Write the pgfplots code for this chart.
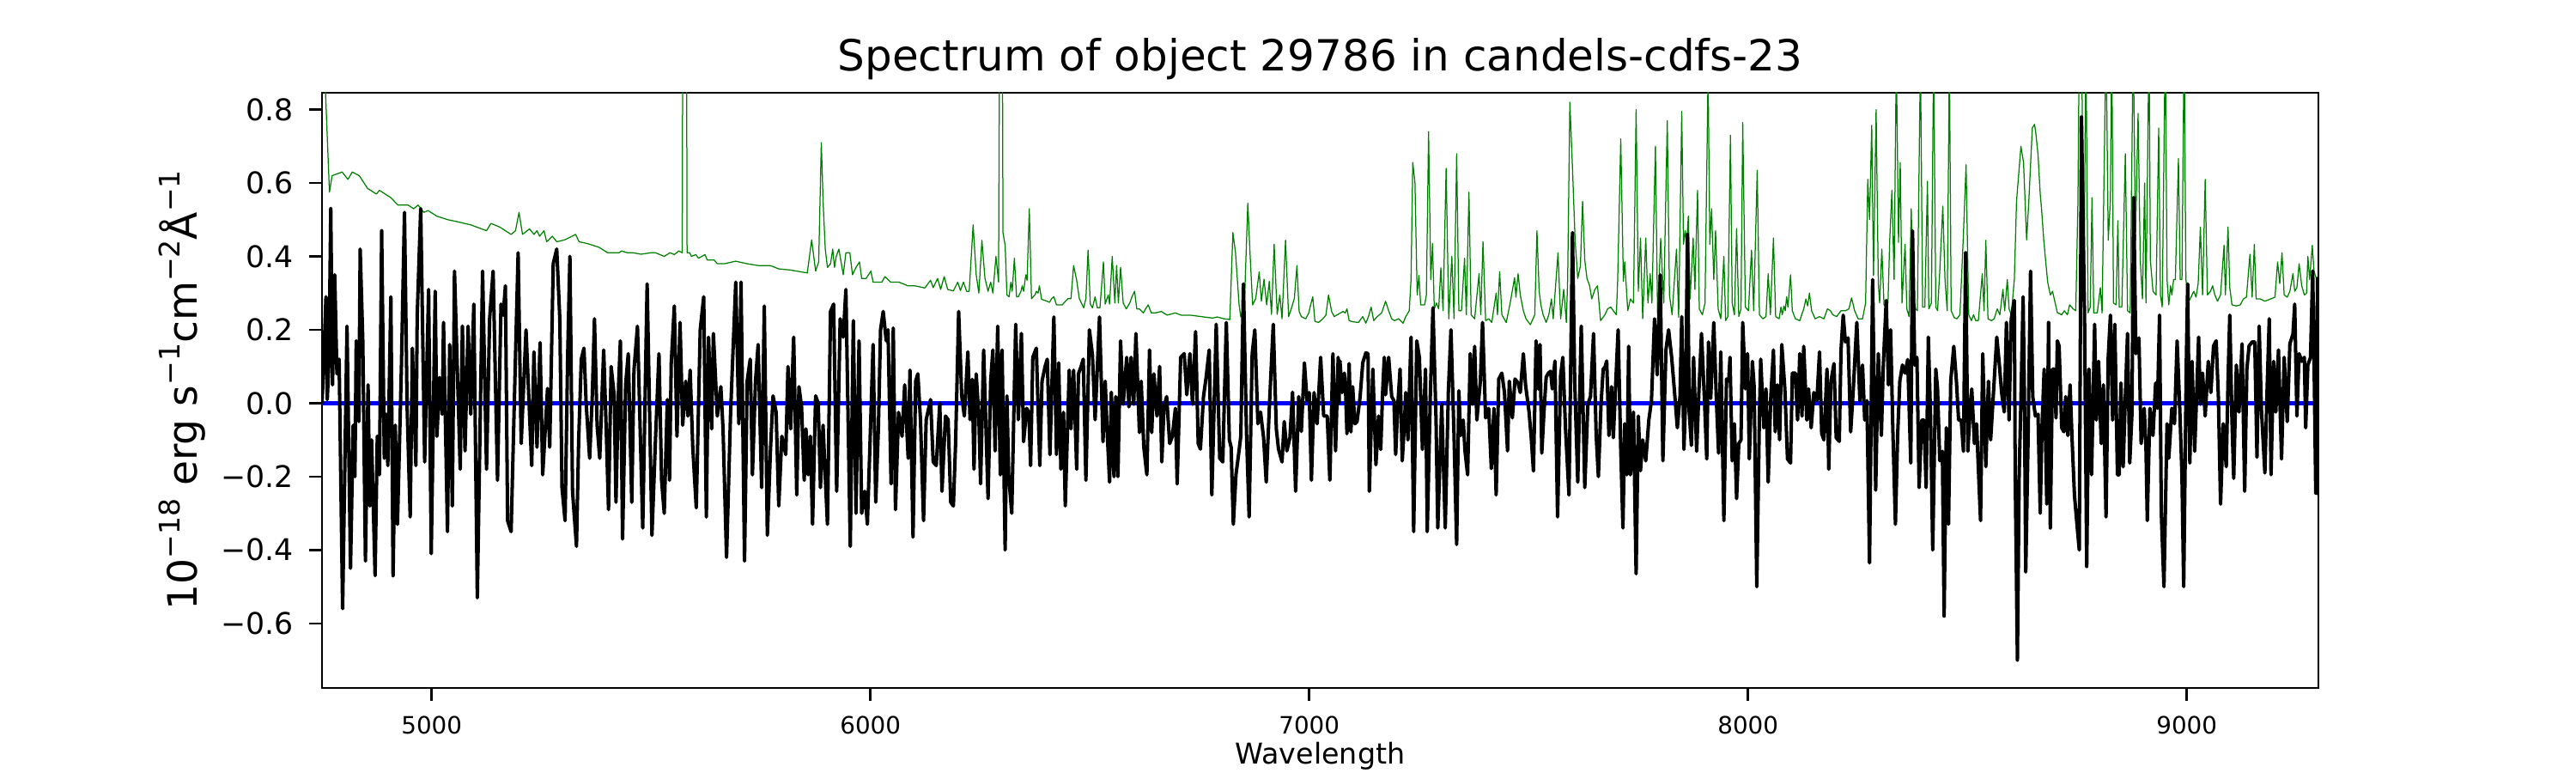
\documentclass[border=0pt]{standalone}
\usepackage{pgfplots}
\pgfplotsset{compat=1.18}
\usepackage{pgfplotstable}
\usepackage{fontspec}
\setmainfont{DejaVu Sans}
\definecolor{mplgreen}{rgb}{0,0.5,0}
\newcommand{\sups}[1]{\raisebox{0.42em}{\fontsize{11.9}{14}\selectfont #1}}

\pgfplotstableread{
x y
4750 0.00
4753 0.08
4759 0.29
4762 0.01
4766 0.12
4770 0.53
4774 0.05
4779 0.35
4784 0.08
4789 0.12
4797 -0.56
4807 0.21
4815 -0.45
4821 -0.06
4825 -0.20
4828 0.17
4834 -0.05
4837 0.42
4843 0.17
4849 -0.43
4855 0.05
4859 -0.28
4863 -0.10
4871 -0.47
4876 -0.09
4881 -0.195
4886 0.47
4892 -0.15
4896 -0.03
4900 -0.17
4907 0.29
4912 -0.47
4917 -0.06
4922 -0.33
4931 0.10
4938 0.52
4944 -0.01
4951 -0.31
4956 0.15
4964 -0.17
4967 0.24
4975 0.53
4984 -0.16
4993 0.31
4999 -0.41
5008 0.305
5012 -0.09
5018 0.07
5024 -0.03
5027 0.22
5036 -0.35
5041 0.16
5047 -0.28
5052 0.36
5058 0.11
5065 -0.18
5070 0.21
5076 -0.13
5083 0.21
5089 -0.03
5096 0.27
5104 -0.53
5116 0.36
5125 -0.18
5132 0.23
5140 0.36
5150 -0.21
5158 0.27
5163 0.24
5168 0.32
5173 -0.32
5181 -0.35
5187 -0.06
5197 0.41
5204 -0.11
5215 0.20
5223 -0.03
5228 -0.17
5233 0.14
5240 -0.12
5247 0.165
5253 -0.195
5264 0.04
5269 -0.12
5277 0.38
5285 0.42
5292 0.23
5297 -0.23
5304 -0.32
5310 0.135
5315 0.40
5321 -0.24
5330 -0.39
5335 -0.10
5341 0.12
5347 0.15
5352 0.00
5360 -0.15
5366 0.02
5371 0.23
5377 -0.06
5383 -0.15
5392 0.145
5398 -0.08
5403 -0.29
5409 0.10
5416 0.02
5420 -0.27
5426 0.05
5430 0.17
5435 -0.37
5442 0.05
5448 0.135
5456 -0.27
5461 0.09
5469 0.21
5481 -0.34
5491 0.325
5502 -0.36
5510 -0.10
5518 0.135
5524 -0.21
5530 -0.30
5537 0.01
5542 -0.21
5546 0.11
5553 0.265
5559 -0.09
5566 0.22
5572 -0.06
5579 0.06
5584 -0.035
5589 0.09
5595 -0.12
5603 -0.285
5612 0.20
5620 0.29
5626 -0.31
5631 0.18
5638 -0.07
5642 0.19
5651 -0.035
5659 0.045
5664 -0.07
5672 -0.42
5681 -0.035
5685 0.09
5693 0.33
5700 -0.056
5705 0.33
5713 -0.43
5719 0.06
5726 0.12
5731 -0.195
5738 0.06
5744 0.16
5752 -0.23
5758 0.265
5765 -0.36
5772 -0.13
5778 0.02
5785 -0.025
5791 -0.28
5798 -0.09
5807 -0.14
5812 0.10
5818 -0.07
5825 0.18
5832 -0.25
5837 0.045
5843 -0.01
5849 -0.21
5853 -0.07
5858 -0.195
5863 -0.09
5868 -0.33
5875 0.02
5881 0.00
5886 -0.23
5892 -0.06
5897 -0.20
5902 -0.33
5909 0.25
5916 0.27
5923 -0.24
5931 0.23
5938 0.18
5944 0.31
5954 -0.39
5961 0.225
5967 -0.30
5974 0.17
5980 -0.30
5987 -0.24
5993 -0.33
6000 -0.07
6006 0.16
6012 -0.27
6018 -0.07
6023 0.20
6029 0.25
6036 0.17
6040 0.20
6047 -0.22
6052 0.205
6057 -0.29
6064 -0.025
6072 -0.09
6078 0.05
6086 -0.15
6090 0.09
6097 -0.365
6103 0.06
6108 0.08
6114 -0.045
6121 -0.32
6127 -0.045
6137 0.01
6143 -0.16
6150 -0.17
6158 0.00
6163 -0.24
6171 -0.035
6177 -0.045
6183 -0.27
6189 -0.28
6194 -0.11
6201 0.25
6208 0.02
6214 -0.035
6222 0.14
6227 -0.045
6232 0.065
6236 -0.18
6241 0.08
6247 -0.035
6251 -0.22
6258 0.145
6268 -0.26
6274 0.06
6279 0.145
6284 -0.13
6290 0.21
6296 -0.195
6300 0.145
6307 -0.40
6311 0.02
6315 -0.195
6322 -0.30
6331 0.215
6337 -0.045
6344 0.19
6349 -0.105
6356 -0.014
6361 -0.025
6365 -0.17
6370 0.125
6378 0.15
6386 -0.17
6391 0.06
6398 0.10
6403 0.12
6409 -0.14
6418 0.235
6424 -0.14
6429 0.11
6434 -0.18
6440 -0.025
6444 -0.28
6453 0.09
6457 -0.07
6463 0.09
6470 -0.18
6474 0.08
6480 0.10
6485 0.12
6491 -0.21
6499 0.20
6506 0.13
6512 -0.045
6522 0.235
6530 -0.105
6535 0.06
6540 -0.09
6545 -0.215
6549 0.03
6555 -0.20
6559 0.018
6564 -0.20
6570 0.17
6576 -0.003
6584 0.125
6589 -0.01
6594 0.125
6600 -0.003
6605 0.19
6613 -0.08
6617 0.06
6623 -0.12
6630 -0.195
6636 0.145
6641 -0.08
6646 0.08
6653 -0.035
6659 0.10
6664 -0.16
6669 -0.01
6675 0.018
6682 -0.11
6688 -0.09
6695 -0.014
6699 -0.22
6707 0.125
6715 0.135
6721 0.023
6728 0.135
6734 -0.003
6741 0.195
6747 -0.11
6752 -0.125
6759 0.018
6765 0.07
6772 0.145
6778 -0.25
6788 0.215
6796 -0.15
6803 -0.16
6811 0.22
6818 -0.10
6822 -0.12
6827 -0.33
6833 -0.195
6840 -0.13
6844 -0.09
6850 0.325
6857 -0.08
6863 -0.31
6870 0.135
6876 0.20
6883 -0.056
6889 -0.024
6896 -0.094
6902 -0.215
6909 -0.014
6918 0.215
6925 -0.07
6930 -0.125
6938 -0.16
6943 -0.05
6949 -0.13
6956 -0.094
6962 0.03
6969 -0.24
6976 0.018
6982 -0.077
6989 0.11
6995 0.007
7000 0.029
7005 -0.21
7011 0.029
7018 -0.056
7026 0.125
7033 -0.035
7041 -0.035
7047 -0.21
7054 0.135
7060 -0.13
7066 0.125
7068 0.002
7070 0.115
7075 0.029
7080 0.082
7083 0.029
7086 -0.083
7091 0.108
7095 -0.078
7099 0.045
7104 -0.056
7109 -0.05
7116 0.018
7122 0.11
7129 0.137
7134 0.135
7137 -0.24
7145 0.093
7152 -0.168
7158 -0.035
7163 -0.126
7167 0.023
7171 0.125
7174 0.023
7181 0.125
7188 0.018
7193 0.007
7197 -0.14
7202 -0.003
7207 0.093
7212 -0.157
7217 -0.056
7220 0.029
7225 -0.10
7232 0.18
7238 -0.35
7245 0.17
7251 0.125
7258 -0.126
7265 0.093
7269 -0.35
7276 0.023
7282 0.26
7289 -0.046
7293 -0.34
7302 -0.003
7310 -0.34
7317 0.029
7323 0.20
7330 -0.088
7336 -0.385
7341 0.034
7345 -0.088
7351 -0.046
7355 -0.13
7361 -0.195
7367 0.135
7372 -0.003
7377 0.155
7382 -0.046
7390 0.06
7395 0.22
7402 -0.04
7409 -0.014
7415 -0.178
7421 -0.014
7426 -0.25
7432 0.066
7439 0.082
7445 0.029
7452 -0.13
7456 0.06
7463 -0.04
7469 0.066
7476 0.055
7481 0.029
7488 0.135
7493 0.05
7501 -0.024
7506 -0.094
7511 -0.185
7517 0.17
7522 0.039
7526 0.16
7530 -0.136
7535 -0.024
7540 0.071
7545 0.082
7550 0.087
7554 0.039
7560 0.115
7566 -0.31
7573 0.077
7578 0.125
7584 -0.067
7592 -0.25
7600 0.465
7605 0.06
7612 -0.215
7620 0.21
7628 -0.23
7635 -0.003
7641 0.018
7648 0.19
7654 -0.088
7659 -0.20
7665 -0.003
7670 0.093
7674 0.098
7678 0.115
7683 -0.088
7689 0.045
7693 -0.094
7698 0.039
7704 0.20
7710 -0.126
7715 -0.34
7719 -0.056
7724 -0.195
7728 0.155
7732 -0.195
7739 -0.024
7745 -0.465
7750 -0.035
7755 -0.184
7760 -0.10
7767 -0.157
7774 -0.046
7780 0.007
7787 0.23
7793 0.077
7800 0.35
7806 -0.157
7813 0.145
7819 0.20
7826 0.125
7832 0.039
7839 -0.067
7845 0.018
7849 0.236
7854 -0.126
7858 0.018
7862 0.46
7866 -0.024
7871 -0.115
7876 0.125
7883 -0.131
7888 0.029
7894 0.19
7901 0.002
7906 -0.152
7910 0.167
7915 0.013
7922 0.22
7928 0.007
7933 -0.136
7938 0.14
7945 -0.32
7951 0.066
7956 0.06
7959 0.125
7964 -0.157
7969 -0.056
7974 -0.26
7979 -0.11
7984 -0.10
7988 0.22
7994 0.039
7999 0.135
8003 -0.152
8010 0.114
8014 0.045
8020 -0.50
8026 -0.035
8029 0.12
8036 -0.067
8041 0.039
8046 -0.215
8052 0.018
8058 0.145
8062 -0.078
8067 0.05
8072 -0.10
8077 0.16
8084 0.039
8090 -0.152
8097 -0.163
8101 0.082
8108 0.082
8113 -0.046
8118 0.135
8123 -0.035
8127 0.155
8134 -0.046
8138 0.039
8144 -0.067
8150 0.029
8157 0.007
8163 0.14
8168 -0.083
8173 -0.10
8180 0.093
8184 -0.18
8189 0.06
8196 0.108
8201 -0.094
8208 -0.104
8212 0.145
8217 0.24
8222 0.167
8228 0.178
8234 -0.078
8240 0.039
8248 0.22
8255 0.007
8261 0.104
8266 -0.046
8271 0.007
8277 -0.435
8284 0.337
8291 -0.237
8297 0.135
8304 -0.088
8308 0.093
8315 0.28
8320 0.05
8325 0.20
8330 -0.067
8336 -0.33
8341 -0.088
8346 0.06
8352 0.104
8358 0.082
8364 0.119
8371 -0.163
8375 0.47
8380 0.104
8385 0.125
8390 -0.23
8396 -0.046
8401 -0.046
8406 -0.23
8411 0.18
8416 -0.035
8421 -0.40
8428 0.093
8432 0.039
8437 -0.157
8443 -0.131
8447 -0.58
8452 -0.067
8457 -0.33
8462 0.06
8469 0.155
8475 0.06
8480 -0.046
8486 -0.046
8491 -0.131
8496 0.41
8501 -0.131
8506 -0.024
8510 0.039
8516 -0.11
8521 -0.056
8525 -0.178
8530 -0.32
8535 0.135
8542 -0.173
8548 0.06
8553 -0.10
8560 0.039
8567 0.18
8573 0.104
8578 0.029
8584 -0.024
8589 0.22
8595 -0.046
8600 0.23
8607 0.28
8609 -0.195
8614 -0.70
8618 -0.195
8622 0.007
8627 0.29
8630 0.018
8633 -0.46
8638 -0.12
8644 0.36
8649 0.018
8655 -0.035
8661 -0.03
8666 -0.30
8670 -0.067
8675 0.093
8681 -0.275
8685 0.22
8689 -0.34
8694 0.093
8698 0.093
8702 -0.04
8705 0.17
8709 0.156
8715 -0.067
8720 -0.078
8724 0.018
8729 -0.088
8734 0.05
8739 -0.11
8744 -0.25
8749 -0.32
8755 -0.40
8760 0.78
8767 0.24
8772 -0.445
8777 0.093
8783 -0.195
8790 0.215
8794 -0.046
8799 0.114
8805 -0.11
8810 0.05
8816 -0.31
8821 0.125
8826 0.24
8831 -0.046
8836 0.215
8842 -0.195
8846 -0.195
8850 0.055
8855 -0.173
8860 0.018
8865 0.19
8870 -0.163
8875 -0.03
8879 0.56
8884 0.135
8891 0.178
8896 -0.11
8903 -0.014
8907 -0.12
8910 -0.32
8916 -0.014
8923 -0.088
8929 0.055
8933 -0.014
8938 0.24
8942 -0.30
8948 -0.50
8955 -0.056
8959 -0.15
8966 -0.014
8972 -0.056
8978 0.17
8984 -0.014
8989 -0.195
8993 -0.50
8999 0.114
9002 0.325
9007 -0.163
9012 0.114
9018 -0.131
9027 0.18
9031 -0.003
9036 0.082
9042 -0.035
9049 0.114
9055 0.029
9061 0.156
9067 0.17
9072 0.018
9077 -0.275
9083 -0.056
9090 -0.173
9094 0.06
9098 0.24
9103 -0.046
9107 -0.205
9113 0.104
9119 -0.024
9126 0.162
9132 -0.24
9137 0.093
9142 0.156
9149 0.167
9155 0.167
9160 -0.147
9165 0.21
9170 -0.014
9178 -0.19
9183 0.034
9188 0.23
9192 -0.195
9198 0.114
9203 -0.024
9209 0.145
9216 -0.152
9222 0.125
9229 -0.05
9235 0.162
9242 0.188
9246 0.27
9251 -0.035
9256 0.135
9262 0.114
9268 0.125
9271 -0.067
9276 0.104
9282 0.125
9287 0.36
9290 0.125
9294 -0.245
9298 0.34
9300 -0.25
}\fluxtable

\pgfplotstableread{
x y
4750 1.09
4767 0.575
4773 0.62
4796 0.63
4809 0.61
4819 0.63
4835 0.62
4854 0.585
4861 0.58
4874 0.57
4881 0.58
4907 0.56
4923 0.54
4946 0.54
4959 0.53
4969 0.54
4982 0.52
4992 0.525
5011 0.51
5037 0.50
5057 0.495
5089 0.486
5125 0.47
5135 0.49
5155 0.48
5181 0.46
5191 0.47
5199 0.52
5207 0.46
5223 0.475
5233 0.46
5240 0.47
5246 0.455
5256 0.47
5262 0.44
5275 0.455
5285 0.44
5303 0.445
5328 0.46
5336 0.44
5355 0.435
5381 0.425
5401 0.41
5427 0.41
5433 0.415
5446 0.41
5459 0.41
5477 0.406
5500 0.41
5510 0.41
5530 0.40
5543 0.41
5553 0.405
5563 0.415
5571 0.41
5573 1.5
5580 1.5
5582 0.41
5588 0.41
5592 0.40
5602 0.405
5608 0.395
5623 0.405
5628 0.39
5644 0.39
5651 0.38
5667 0.38
5693 0.387
5719 0.38
5745 0.375
5772 0.375
5791 0.366
5817 0.363
5856 0.355
5866 0.445
5875 0.36
5882 0.385
5888 0.71
5892 0.55
5897 0.42
5902 0.37
5909 0.38
5914 0.42
5918 0.37
5922 0.40
5928 0.42
5938 0.35
5944 0.41
5953 0.41
5959 0.35
5967 0.37
5975 0.385
5980 0.34
5990 0.34
6001 0.36
6006 0.33
6026 0.33
6033 0.345
6046 0.33
6065 0.33
6085 0.32
6101 0.32
6124 0.314
6137 0.335
6143 0.315
6153 0.34
6160 0.31
6168 0.345
6176 0.31
6189 0.306
6199 0.33
6205 0.307
6212 0.33
6219 0.305
6225 0.305
6234 0.486
6241 0.35
6247 0.30
6254 0.444
6261 0.34
6268 0.305
6274 0.33
6279 0.30
6286 0.40
6292 0.33
6295 1.3
6300 1.3
6302 0.465
6307 0.43
6311 0.295
6316 0.29
6320 0.33
6323 0.305
6328 0.395
6333 0.29
6337 0.29
6343 0.305
6346 0.32
6349 0.305
6354 0.35
6357 0.335
6362 0.53
6367 0.285
6375 0.295
6378 0.305
6382 0.30
6385 0.32
6390 0.283
6398 0.28
6408 0.275
6413 0.285
6418 0.29
6424 0.268
6437 0.268
6450 0.285
6457 0.285
6463 0.375
6470 0.335
6476 0.285
6486 0.26
6491 0.285
6496 0.417
6501 0.27
6506 0.26
6512 0.29
6517 0.26
6523 0.26
6531 0.385
6535 0.27
6542 0.295
6545 0.27
6551 0.40
6557 0.273
6561 0.375
6565 0.273
6570 0.37
6576 0.273
6583 0.257
6591 0.273
6596 0.29
6602 0.305
6607 0.257
6613 0.257
6622 0.246
6627 0.257
6633 0.268
6640 0.246
6649 0.246
6663 0.25
6676 0.24
6695 0.246
6708 0.24
6728 0.24
6741 0.238
6760 0.235
6780 0.232
6790 0.235
6806 0.23
6819 0.228
6826 0.465
6832 0.41
6840 0.27
6844 0.235
6852 0.26
6860 0.545
6865 0.41
6871 0.268
6878 0.285
6886 0.358
6891 0.278
6897 0.338
6903 0.268
6909 0.332
6914 0.242
6920 0.433
6927 0.242
6933 0.295
6938 0.23
6946 0.444
6953 0.236
6959 0.257
6966 0.285
6972 0.375
6977 0.25
6982 0.236
6992 0.23
6999 0.246
7002 0.262
7008 0.29
7013 0.223
7021 0.22
7031 0.23
7038 0.24
7044 0.295
7051 0.25
7057 0.236
7067 0.243
7077 0.25
7082 0.246
7086 0.257
7091 0.225
7099 0.222
7112 0.22
7122 0.236
7129 0.218
7135 0.236
7141 0.262
7147 0.225
7155 0.236
7165 0.246
7174 0.278
7181 0.252
7188 0.23
7194 0.225
7204 0.23
7214 0.218
7220 0.236
7228 0.252
7232 0.337
7236 0.656
7241 0.60
7246 0.295
7250 0.348
7254 0.268
7263 0.268
7267 0.295
7272 0.74
7277 0.337
7281 0.435
7285 0.257
7290 0.273
7295 0.257
7300 0.369
7305 0.252
7312 0.64
7318 0.23
7325 0.40
7330 0.23
7336 0.68
7341 0.252
7347 0.252
7354 0.395
7358 0.241
7364 0.575
7369 0.241
7377 0.23
7387 0.353
7391 0.241
7396 0.44
7402 0.225
7409 0.23
7416 0.22
7426 0.30
7429 0.241
7434 0.358
7439 0.241
7449 0.22
7458 0.273
7468 0.342
7471 0.289
7476 0.353
7481 0.295
7488 0.252
7494 0.23
7504 0.214
7514 0.241
7519 0.47
7524 0.305
7528 0.268
7533 0.241
7540 0.22
7546 0.241
7552 0.284
7556 0.23
7567 0.41
7573 0.23
7580 0.31
7586 0.22
7589 0.337
7594 0.82
7600 0.64
7606 0.443
7612 0.34
7618 0.374
7623 0.55
7628 0.39
7633 0.34
7639 0.32
7644 0.284
7651 0.31
7657 0.32
7664 0.225
7674 0.241
7680 0.257
7687 0.262
7693 0.252
7700 0.241
7703 0.337
7710 0.72
7716 0.332
7719 0.385
7726 0.252
7732 0.284
7739 0.273
7745 0.80
7750 0.305
7755 0.45
7760 0.23
7767 0.45
7772 0.273
7777 0.353
7781 0.273
7789 0.70
7794 0.23
7801 0.449
7808 0.273
7816 0.77
7821 0.295
7827 0.241
7837 0.42
7842 0.234
7849 0.795
7853 0.433
7857 0.47
7860 0.433
7864 0.51
7868 0.284
7875 0.45
7879 0.31
7885 0.58
7889 0.257
7896 0.241
7902 0.273
7909 0.90
7913 0.433
7917 0.53
7922 0.337
7926 0.47
7932 0.257
7938 0.23
7945 0.40
7949 0.225
7954 0.236
7960 0.73
7964 0.273
7969 0.241
7974 0.476
7979 0.236
7984 0.257
7988 0.765
7994 0.262
8001 0.252
8008 0.417
8013 0.252
8021 0.635
8026 0.241
8034 0.23
8041 0.236
8046 0.353
8051 0.241
8058 0.45
8063 0.236
8071 0.23
8075 0.262
8078 0.241
8082 0.265
8085 0.252
8088 0.29
8091 0.262
8097 0.35
8101 0.252
8108 0.23
8118 0.225
8127 0.257
8132 0.284
8136 0.265
8140 0.30
8145 0.252
8153 0.23
8163 0.236
8173 0.23
8181 0.257
8188 0.252
8193 0.241
8202 0.236
8212 0.252
8222 0.252
8230 0.257
8236 0.287
8243 0.252
8251 0.23
8261 0.23
8268 0.273
8273 0.61
8277 0.50
8282 0.757
8286 0.348
8292 0.80
8297 0.326
8300 0.273
8305 0.42
8310 0.268
8315 0.262
8319 0.273
8323 0.444
8328 0.58
8333 0.337
8338 0.95
8343 0.438
8347 0.656
8351 0.273
8358 0.433
8362 0.257
8367 0.236
8372 0.53
8377 0.284
8382 0.257
8386 0.252
8393 0.95
8398 0.262
8403 0.262
8409 0.605
8412 0.257
8418 0.273
8423 0.95
8428 0.262
8432 0.252
8437 0.358
8444 0.537
8449 0.337
8454 0.252
8459 0.95
8463 0.252
8470 0.233
8476 0.23
8483 0.241
8491 0.46
8497 0.65
8503 0.241
8509 0.225
8514 0.241
8519 0.225
8525 0.225
8534 0.353
8538 0.252
8542 0.444
8547 0.23
8555 0.225
8561 0.23
8568 0.257
8574 0.241
8581 0.31
8585 0.252
8591 0.337
8595 0.257
8600 0.241
8607 0.337
8612 0.55
8614 0.58
8622 0.70
8628 0.656
8635 0.445
8640 0.55
8648 0.75
8653 0.76
8656 0.736
8661 0.677
8666 0.57
8669 0.53
8674 0.445
8679 0.38
8683 0.33
8689 0.295
8694 0.305
8698 0.284
8705 0.247
8715 0.241
8721 0.252
8728 0.241
8733 0.268
8741 0.257
8747 0.252
8752 0.55
8755 1.0
8760 1.0
8766 0.337
8770 1.0
8775 0.246
8780 0.262
8784 0.56
8788 0.246
8796 0.246
8803 0.315
8807 0.246
8816 1.0
8821 0.444
8826 0.555
8829 1.0
8833 0.273
8839 0.268
8843 0.497
8846 0.262
8852 0.262
8860 0.68
8865 0.252
8871 0.246
8878 1.0
8883 0.444
8889 0.79
8894 0.39
8899 0.284
8904 0.60
8907 0.273
8914 1.0
8917 0.39
8923 0.305
8930 0.295
8936 0.75
8940 0.295
8944 0.262
8951 1.0
8955 0.337
8959 0.268
8963 0.32
8966 0.295
8970 0.337
8974 0.337
8981 0.667
8985 0.337
8989 0.337
8994 1.0
8998 0.337
9005 0.278
9012 0.295
9016 0.305
9021 0.289
9026 0.326
9031 0.48
9036 0.295
9042 0.61
9047 0.295
9054 0.305
9059 0.32
9064 0.295
9070 0.278
9077 0.295
9085 0.43
9088 0.295
9094 0.48
9098 0.315
9103 0.268
9113 0.265
9122 0.268
9129 0.284
9136 0.289
9144 0.406
9149 0.289
9154 0.433
9158 0.284
9168 0.284
9178 0.278
9191 0.284
9201 0.289
9207 0.385
9212 0.326
9217 0.41
9222 0.295
9229 0.289
9235 0.305
9242 0.353
9246 0.305
9251 0.315
9256 0.38
9262 0.32
9268 0.295
9273 0.30
9276 0.40
9280 0.337
9286 0.43
9290 0.36
9294 0.343
9300 0.34
}\skytable

\pgfplotstableread{
x y
4750 0
9300 0
}\zerotable

\begin{document}
\begin{tikzpicture}
\path[use as bounding box] (0,0) rectangle (1080pt,324pt);
\begin{axis}[
  at={(135pt,35.64pt)}, anchor=south west,
  scale only axis, width=837pt, height=249.48pt,
  xmin=4750, xmax=9300, ymin=-0.776, ymax=0.846,
  axis line style={line width=0.9pt},
  xtick={5000,6000,7000,8000,9000},
  xticklabels={5000,6000,7000,8000,9000},
  ytick={-0.6,-0.4,-0.2,0,0.2,0.4,0.6,0.8},
  yticklabels={−0.6,−0.4,−0.2,0.0,0.2,0.4,0.6,0.8},
  tick align=outside, major tick length=5.4pt,
  tick style={line width=0.9pt, black},
  xtick pos=lower, ytick pos=left,
  minor tick num=0,
  x tick label style={font=\fontsize{10}{12}\selectfont, anchor=base, inner sep=0pt, yshift=-13.7pt},
  y tick label style={font=\fontsize{12.5}{15}\selectfont, anchor=east, inner sep=0pt, xshift=-6.3pt},
  xlabel={Wavelength},
  xlabel style={font=\fontsize{12}{14}\selectfont, at={(axis description cs:0.5,0)}, anchor=base, inner sep=0pt, yshift=-32pt},
  ylabel={10\sups{−18} erg s\sups{−1}cm\sups{−2}Å\sups{−1}},
  ylabel style={font=\fontsize{17}{20}\selectfont, at={(axis description cs:-0.0626,0.5)}, anchor=base, inner sep=0pt},
  title={Spectrum of object 29786 in candels-cdfs-23},
  title style={font=\fontsize{18}{21}\selectfont, at={(axis description cs:0.5,1)}, anchor=base, inner sep=0pt, yshift=3pt},
  clip=true,
]
\addplot[blue, line width=1.5pt] table[x=x,y=y] {\zerotable};
\addplot[mplgreen, line width=0.45pt, line join=round] table[x=x,y=y] {\skytable};
\addplot[black, line width=1.45pt, line join=round] table[x=x,y=y] {\fluxtable};
\end{axis}
\end{tikzpicture}
\end{document}
